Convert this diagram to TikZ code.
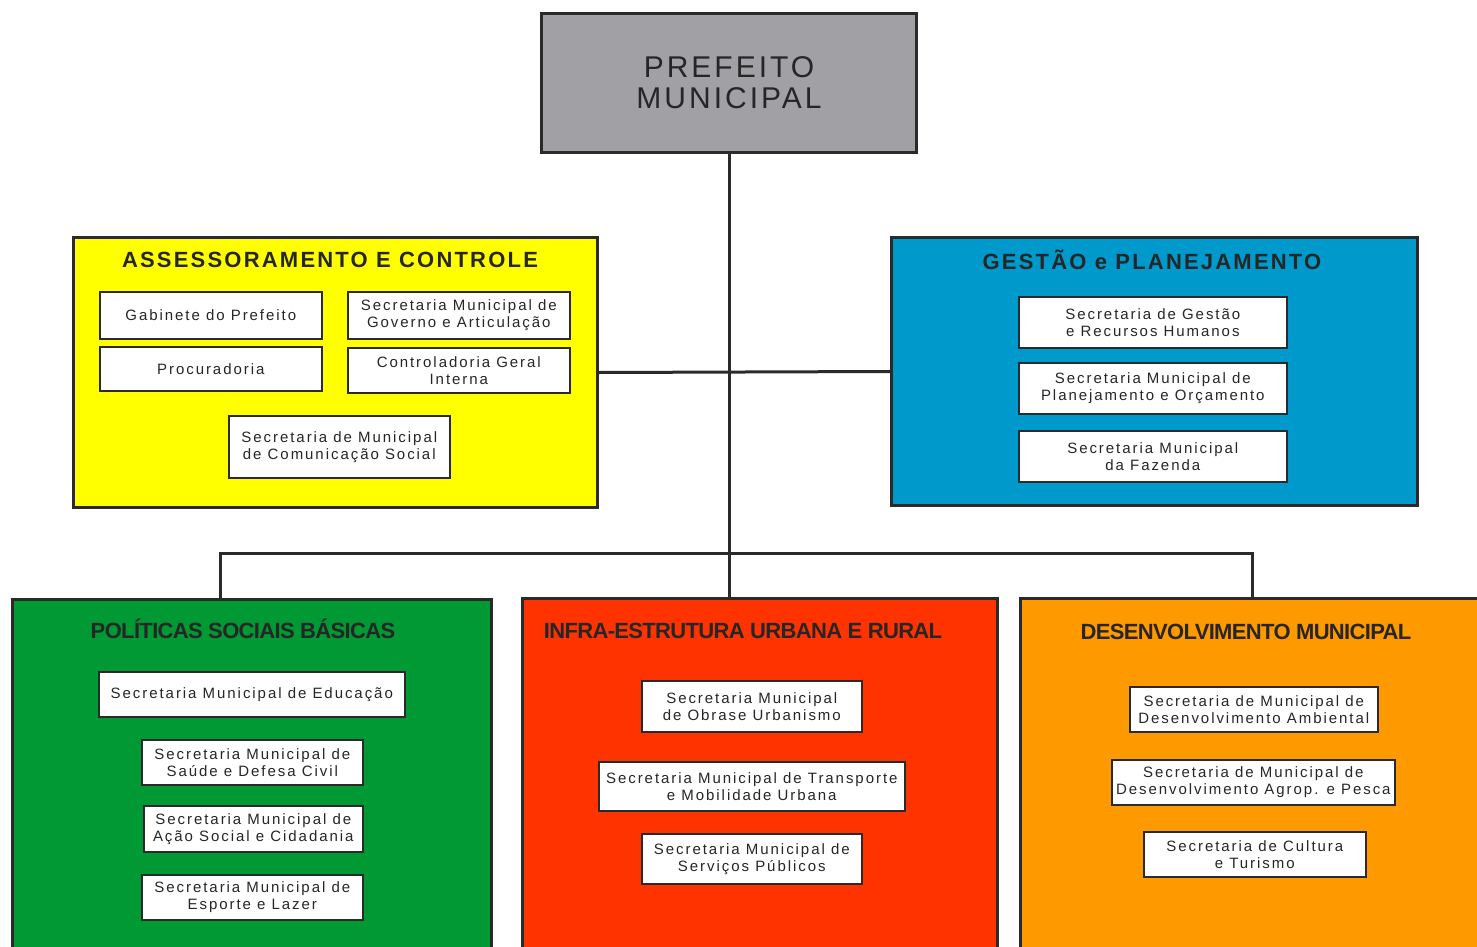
\documentclass[tikz,border=0pt]{standalone}
\usepackage{fontspec}
\setmainfont{Liberation Sans}
\newfontfamily\innerfont[LetterSpace=13]{Liberation Sans}
\newfontfamily\wideboldfont[LetterSpace=10]{Liberation Sans}
\newfontfamily\tightboldfont[LetterSpace=-3]{Liberation Sans}
\newfontfamily\preffont[LetterSpace=10]{Liberation Sans}
\usetikzlibrary{calc}
\definecolor{cgray}{HTML}{A1A0A5}
\definecolor{cyellow}{HTML}{FFFF00}
\definecolor{cblue}{HTML}{0099CC}
\definecolor{cgreen}{HTML}{009933}
\definecolor{cred}{HTML}{FF3300}
\definecolor{corange}{HTML}{FF9900}
\definecolor{cline}{HTML}{2A2A2A}
\tikzset{
  group/.style={draw=cline, line width=3pt, anchor=north west, inner sep=0pt},
  sub/.style={draw=cline, line width=1.6pt, fill=white, anchor=north west, inner sep=0pt,
    align=center, font=\innerfont\fontsize{15}{17}\selectfont, text=black!85},
  wtitle/.style={font=\wideboldfont\bfseries\fontsize{22}{24}\selectfont, text=black!85, inner sep=0pt},
  ttitle/.style={font=\tightboldfont\bfseries\fontsize{22}{24}\selectfont, text=black!85, inner sep=0pt},
  conn/.style={draw=cline, line width=3pt}
}
\begin{document}
\begin{tikzpicture}[x=1pt,y=-1pt]
\useasboundingbox (0,0) rectangle (1477,947);
\fill[white] (0,0) rectangle (1477,947);
\clip (0,0) rectangle (1477,947);

% Top box
\node[group, fill=cgray, minimum width=375pt, minimum height=139pt, align=center,
  font=\preffont\fontsize{30}{31}\selectfont, text=black!85] (pref) at (540,12) {PREFEITO\\MUNICIPAL};

% Group boxes
\node[group, fill=cyellow, minimum width=524pt, minimum height=270pt] (assess) at (72,236) {};
\node[group, fill=cblue, minimum width=526pt, minimum height=268pt] (gestao) at (890,236) {};
\node[group, fill=cgreen, minimum width=479pt, minimum height=380pt] (pol) at (11,598) {};
\node[group, fill=cred, minimum width=475pt, minimum height=380pt] (infra) at (521,597) {};
\node[group, fill=corange, minimum width=480pt, minimum height=380pt] (desen) at (1019,597) {};

% Connectors
\coordinate (bus) at (729,553);
\draw[conn] (pref.south -| bus) -- (bus |- infra.north);
\draw[conn] (assess.east) -- (gestao.west);
\draw[conn] ($(pol.north)+(-31.5,0)$) |- (bus) -| ($(desen.north)+(-8,0)$);

% Titles
\node[wtitle] (t1) at (330,260) {ASSESSORAMENTO E CONTROLE};
\node[wtitle] (t2) at (1152,260) {GESTÃO e PLANEJAMENTO};
\node[ttitle] (t3) at (243,629) {POLÍTICAS SOCIAIS BÁSICAS};
\node[ttitle] (t4) at (743,631) {INFRA-ESTRUTURA URBANA E RURAL};
\node[ttitle] (t5) at (1246,632) {DESENVOLVIMENTO MUNICIPAL};

% Assessoramento
\node[sub, minimum width=222pt, minimum height=47pt] (a1) at (99,291) {Gabinete do Prefeito};
\node[sub, minimum width=222pt, minimum height=47pt] (a2) at (347,291) {Secretaria Municipal de\\Governo e Articulação};
\node[sub, minimum width=222pt, minimum height=44pt] (a3) at (99,346) {Procuradoria};
\node[sub, minimum width=222pt, minimum height=45pt] (a4) at (347,347) {Controladoria Geral\\Interna};
\node[sub, minimum width=221pt, minimum height=62pt] (a5) at (228,415) {Secretaria de Municipal\\de Comunicação Social};

% Gestao
\node[sub, minimum width=268pt, minimum height=51pt] (g1) at (1018,296) {Secretaria de Gestão\\e Recursos Humanos};
\node[sub, minimum width=268pt, minimum height=51pt] (g2) at (1018,362) {Secretaria Municipal de\\Planejamento e Orçamento};
\node[sub, minimum width=268pt, minimum height=51pt] (g3) at (1018,430) {Secretaria Municipal\\da Fazenda};

% Politicas
\node[sub, minimum width=306pt, minimum height=45pt] (p1) at (98,671) {Secretaria Municipal de Educação};
\node[sub, minimum width=221pt, minimum height=45pt] (p2) at (141,739) {Secretaria Municipal de\\Saúde e Defesa Civil};
\node[sub, minimum width=219pt, minimum height=46pt] (p3) at (143,805) {Secretaria Municipal de\\Ação Social e Cidadania};
\node[sub, minimum width=221pt, minimum height=45pt] (p4) at (141,874) {Secretaria Municipal de\\Esporte e Lazer};

% Infra
\node[sub, minimum width=220pt, minimum height=51pt] (i1) at (641,680) {Secretaria Municipal\\de Obrase Urbanismo};
\node[sub, minimum width=306pt, minimum height=49pt] (i2) at (598,761) {Secretaria Municipal de Transporte\\e Mobilidade Urbana};
\node[sub, minimum width=220pt, minimum height=50pt] (i3) at (641,833) {Secretaria Municipal de\\Serviços Públicos};

% Desenvolvimento
\node[sub, minimum width=248pt, minimum height=45pt] (d1) at (1129,686) {Secretaria de Municipal de\\Desenvolvimento Ambiental};
\node[sub, minimum width=283pt, minimum height=45pt] (d2) at (1111,759) {Secretaria de Municipal de\\Desenvolvimento Agrop. e Pesca};
\node[sub, minimum width=222pt, minimum height=45pt] (d3) at (1143,831) {Secretaria de Cultura\\e Turismo};
\end{tikzpicture}
\end{document}
